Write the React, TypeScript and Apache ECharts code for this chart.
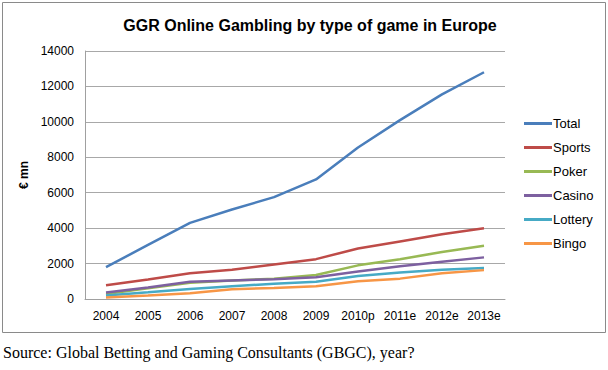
import React, { useEffect, useRef } from "react";
import * as echarts from "echarts";

const categories = ["2004", "2005", "2006", "2007", "2008", "2009", "2010p", "2011e", "2012e", "2013e"];
const total = [1800, 3050, 4300, 5050, 5750, 6750, 8550, 10100, 11550, 12800];
const sports = [780, 1100, 1450, 1650, 1950, 2250, 2850, 3250, 3650, 4000];
const poker = [280, 600, 920, 1050, 1150, 1350, 1900, 2250, 2650, 3000];
const casino = [370, 650, 980, 1050, 1120, 1230, 1550, 1850, 2100, 2350];
const lottery = [200, 380, 570, 720, 860, 980, 1300, 1500, 1650, 1750];
const bingo = [80, 200, 330, 550, 620, 720, 1000, 1150, 1450, 1630];

const seriesNames = ["Total", "Sports", "Poker", "Casino", "Lottery", "Bingo"];
const seriesData = [total, sports, poker, casino, lottery, bingo];
const seriesColors = ["#4A7EBB", "#BE4B48", "#98B954", "#7D60A0", "#46AAC5", "#F79646"];

const titleText = "GGR Online Gambling by type of game in Europe";
const yAxisTitle = "€ mn";
const sourceText = "Source: Global Betting and Gaming Consultants (GBGC), year?";

export default function App() {
  const ref = useRef<HTMLDivElement>(null);
  useEffect(() => {
    if (!ref.current) return;
    const chart = echarts.init(ref.current, null, { renderer: "svg" });
    const font = "Liberation Sans, Arial, sans-serif";
    chart.setOption({
      animation: false,
      backgroundColor: "#ffffff",
      title: {
        text: titleText,
        left: 305,
        top: 12,
        textAlign: "center",
        textStyle: { fontFamily: font, fontWeight: "bold", fontSize: 16, color: "#000" },
      },
      grid: { left: 85, right: 103, top: 51, bottom: 71 },
      legend: {
        orient: "vertical",
        left: 524,
        top: 117,
        padding: 0,
        itemWidth: 28,
        itemHeight: 3,
        itemGap: 11,
        icon: "rect",
        textStyle: { fontFamily: font, fontSize: 13, color: "#000", padding: [0, 0, 0, -4] },
        data: seriesNames,
      },
      xAxis: {
        type: "category",
        data: categories,
        boundaryGap: true,
        axisLine: { lineStyle: { color: "#a0a0a0", width: 1 } },
        axisTick: { show: false },
        axisLabel: { fontFamily: font, fontSize: 12, color: "#000", margin: 11, interval: 0 },
      },
      yAxis: {
        type: "value",
        min: 0,
        max: 14000,
        interval: 2000,
        name: yAxisTitle,
        nameLocation: "middle",
        nameGap: 50,
        nameRotate: 90,
        nameTextStyle: { fontFamily: font, fontSize: 12, fontWeight: "bold", color: "#000" },
        axisLine: { show: true, lineStyle: { color: "#a0a0a0", width: 1 } },
        axisTick: { show: false },
        splitLine: { lineStyle: { color: "#a8a8a8", width: 1 } },
        axisLabel: {
          fontFamily: font,
          fontSize: 12,
          color: "#000",
          margin: 11,
          formatter: (v: number) => String(v),
        },
      },
      series: seriesNames.map((name, i) => ({
        name,
        type: "line",
        data: seriesData[i],
        symbol: "none",
        lineStyle: { color: seriesColors[i], width: 2.5 },
        itemStyle: { color: seriesColors[i] },
      })),
      graphic: [
        {
          type: "rect",
          shape: { x: 2.5, y: 2.5, width: 603, height: 330 },
          style: { fill: "none", stroke: "#8a8a8a", lineWidth: 1 },
          silent: true,
          z: 0,
        },
        {
          type: "text",
          left: 3,
          top: 344,
          style: {
            text: sourceText,
            font: "16px 'Liberation Serif', 'Times New Roman', serif",
            fill: "#000",
          },
        },
      ],
    });
    return () => chart.dispose();
  }, []);
  return (
    <div style={{ position: "fixed", left: 0, top: 0, width: 608, height: 370, background: "#fff" }}>
      <div ref={ref} style={{ width: 608, height: 370 }} />
    </div>
  );
}
